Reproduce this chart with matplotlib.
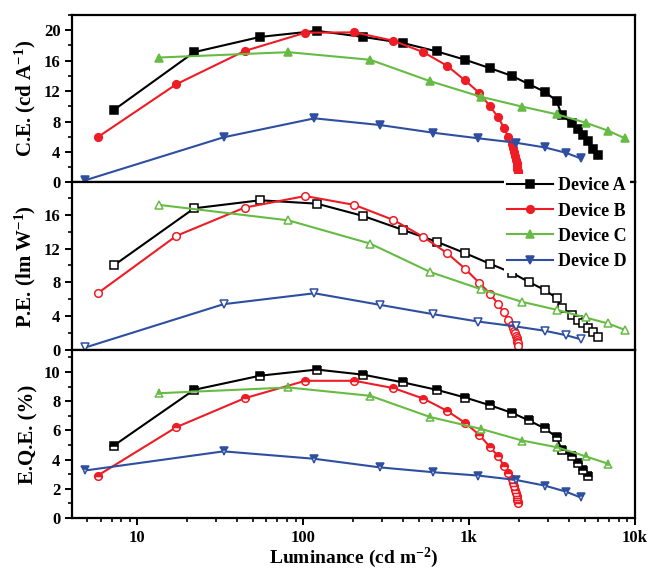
import numpy as np
import matplotlib
matplotlib.use('Agg')
import matplotlib.pyplot as plt
import matplotlib.ticker as ticker

# ── Data ─────────────────────────────────────────────────────────────────────
lum_a = [7.2, 22, 55, 121, 230, 400, 640, 950, 1340, 1810, 2300, 2870, 3380,
         3620, 4170, 4540, 4870, 5220, 5590, 6000]
ce_a = [9.5, 17.1, 19.1, 19.9, 19.1, 18.3, 17.2, 16.1, 15.0, 14.0, 12.9, 11.9,
        10.7, 8.9, 7.8, 7.0, 6.2, 5.4, 4.4, 3.6]
pe_a = [10.0, 16.75, 17.7, 17.3, 15.85, 14.2, 12.8, 11.45, 10.2, 9.15, 8.05,
        7.1, 6.15, 5.0, 4.2, 3.55, 3.15, 2.6, 2.1, 1.6]
eqe_a = [4.95, 8.78, 9.75, 10.17, 9.82, 9.29, 8.78, 8.25, 7.72, 7.21, 6.68,
         6.13, 5.53, 4.68, 4.22, 3.75, 3.29, 2.9]

lum_b = [5.77, 17.2, 44.3, 103, 204, 350, 531, 740, 946, 1150, 1340, 1500,
         1625, 1725, 1807, 1850, 1880, 1900, 1920, 1940, 1950, 1960, 1970, 1975]
ce_b = [5.95, 12.9, 17.25, 19.65, 19.7, 18.6, 17.1, 15.3, 13.4, 11.8, 10.0,
        8.55, 7.2, 6.0, 5.1, 4.5, 4.0, 3.5, 3.0, 2.6, 2.2, 1.8, 1.5, 1.2]
pe_b = [6.72, 13.5, 16.83, 18.2, 17.15, 15.38, 13.37, 11.44, 9.63, 7.98, 6.69,
        5.43, 4.45, 3.54, 3.0, 2.6, 2.3, 2.0, 1.7, 1.45, 1.2, 1.0, 0.8, 0.55]
eqe_b = [2.9, 6.22, 8.2, 9.4, 9.4, 8.9, 8.18, 7.33, 6.52, 5.71, 4.86, 4.22,
         3.57, 3.06, 2.65, 2.4, 2.15, 1.9, 1.7, 1.5, 1.35, 1.2, 1.1, 1.0]

lum_c = [13.6, 81.5, 254, 582, 1180, 2100, 3400, 5050, 6910, 8710]
ce_c = [16.4, 17.1, 16.1, 13.3, 11.25, 9.95, 8.94, 7.85, 6.8, 5.8]
pe_c = [17.15, 15.33, 12.58, 9.24, 7.2, 5.7, 4.76, 3.86, 3.15, 2.4]
eqe_c = [8.55, 8.94, 8.37, 6.92, 6.1, 5.3, 4.84, 4.22, 3.71]

lum_d = [4.86, 33.1, 117, 291, 609, 1137, 1920, 2870, 3840, 4710]
ce_d = [0.3, 5.93, 8.42, 7.54, 6.53, 5.8, 5.22, 4.6, 3.9, 3.17]
pe_d = [0.32, 5.43, 6.72, 5.35, 4.25, 3.38, 2.8, 2.29, 1.77, 1.3]
eqe_d = [3.25, 4.56, 4.05, 3.46, 3.13, 2.9, 2.6, 2.21, 1.8, 1.4]

labels = ['Device A', 'Device B', 'Device C', 'Device D']
x_ticks = [10, 100, 1000, 10000]
x_ticklabels = ['10', '100', '1k', '10k']

# ── Style ────────────────────────────────────────────────────────────────────
colors = ['#000000', '#ee1c24', '#66bb44', '#2e4ea0']
markers = ['s', 'o', '^', 'v']

plt.rcParams.update({
    'font.family': ['Liberation Serif', 'DejaVu Serif'],
    'font.weight': 'bold',
    'axes.labelweight': 'bold',
    'mathtext.fontset': 'custom',
    'mathtext.rm': 'Liberation Serif:bold',
    'mathtext.bf': 'Liberation Serif:bold',
    'mathtext.it': 'Liberation Serif:bold',
    'axes.linewidth': 1.6,
    'xtick.major.width': 1.4,
    'ytick.major.width': 1.4,
    'xtick.minor.width': 1.2,
    'ytick.minor.width': 1.2,
    'xtick.major.size': 5,
    'ytick.major.size': 5,
    'xtick.minor.size': 3,
    'ytick.minor.size': 3,
    'xtick.labelsize': 12,
    'ytick.labelsize': 12,
})

fig, axes = plt.subplots(3, 1, figsize=(6.51, 5.70), dpi=100, sharex=True)
fig.subplots_adjust(left=0.111, right=0.975, top=0.974, bottom=0.0915, hspace=0)

lums = [lum_a, lum_b, lum_c, lum_d]
panels = [
    ([ce_a, ce_b, ce_c, ce_d], 'full', r'C.E. (cd A$^{-1}$)', (0, 22), 4, 2),
    ([pe_a, pe_b, pe_c, pe_d], 'none', r'P.E. (lm W$^{-1}$)', (0, 19.8), 4, 2),
    ([eqe_a, eqe_b, eqe_c, eqe_d], 'top', 'E.Q.E. (%)', (0, 11.5), 2, 1),
]

handles = []
for ax, (series, fill, ylabel, ylim, major, minor) in zip(axes, panels):
    for i, vals in enumerate(series):
        x = lums[i][:len(vals)]
        kw = dict(color=colors[i], marker=markers[i], markersize=5.5, lw=1.5,
                  markeredgewidth=1.1, clip_on=False, label=labels[i])
        if fill == 'full':
            kw.update(markerfacecolor=colors[i])
        elif fill == 'none':
            kw.update(markerfacecolor='white')
        else:
            kw.update(fillstyle='top', markerfacecolor=colors[i],
                      markerfacecoloralt='white')
        line, = ax.plot(x, vals, **kw)
        if fill == 'full':
            handles.append(line)
    ax.set_xscale('log')
    ax.set_xlim(4.05, 10000)
    ax.set_ylim(*ylim)
    ax.yaxis.set_major_locator(ticker.MultipleLocator(major))
    ax.yaxis.set_minor_locator(ticker.MultipleLocator(minor))
    ax.set_ylabel(ylabel, fontsize=15, labelpad=4)
    ax.tick_params(axis='y', which='both', direction='out', right=False)
    ax.tick_params(axis='x', which='both', direction='out', top=False,
                   bottom=(ax is axes[-1]))

axes[-1].xaxis.set_major_locator(ticker.FixedLocator(x_ticks))
axes[-1].xaxis.set_major_formatter(ticker.FixedFormatter(x_ticklabels))
axes[-1].xaxis.set_minor_locator(ticker.LogLocator(base=10, subs=np.arange(2, 10)))
axes[-1].xaxis.set_minor_formatter(ticker.NullFormatter())
axes[-1].set_xlabel(r'Luminance (cd m$^{-2}$)', fontsize=14, labelpad=0)
fig.align_ylabels(axes)

fig.legend(handles=handles, labels=labels, loc='upper right',
           bbox_to_anchor=(0.968, 0.695), fontsize=13, frameon=True,
           facecolor='white', edgecolor='none', framealpha=1, fancybox=False,
           handlelength=2.5, handletextpad=0.3, labelspacing=0.45,
           borderpad=0.2, borderaxespad=0, numpoints=1)

fig.savefig('out.png', dpi=100)
